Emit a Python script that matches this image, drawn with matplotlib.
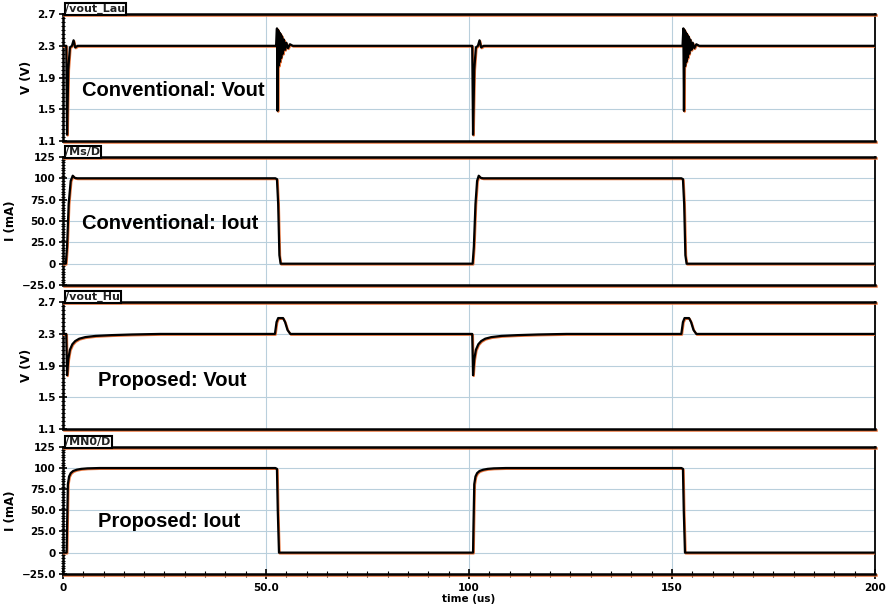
import matplotlib
matplotlib.use('Agg')
import matplotlib.pyplot as plt
import matplotlib.patheffects as pe
from matplotlib.ticker import FixedLocator, MultipleLocator, AutoMinorLocator

plt.rcParams['font.family'] = ['Liberation Sans', 'DejaVu Sans']

# ---- data (time in us) ----
conv_vout_t = [0, 0.8, 1.0, 1.3, 1.7, 2.2, 2.6, 3.0, 3.6,
               52.5, 52.7, 52.85, 53.0, 53.15, 53.3, 53.45, 53.6, 53.75, 53.95,
               54.15, 54.4, 54.7, 55.0, 55.4, 55.9, 56.6,
               100.6, 100.8, 101.0, 101.3, 101.7, 102.2, 102.6, 103.0, 103.6,
               152.6, 152.8, 152.95, 153.1, 153.25, 153.4, 153.55, 153.7, 153.85, 154.05,
               154.25, 154.5, 154.8, 155.1, 155.5, 156.0, 156.7,
               200]
conv_vout_v = [2.3, 2.3, 1.18, 2.0, 2.28, 2.3, 2.37, 2.28, 2.3,
               2.3, 2.52, 1.48, 2.5, 2.05, 2.47, 2.1, 2.45, 2.15, 2.42,
               2.2, 2.38, 2.25, 2.34, 2.27, 2.32, 2.3,
               2.3, 2.3, 1.18, 2.0, 2.28, 2.3, 2.37, 2.28, 2.3,
               2.3, 2.52, 1.48, 2.5, 2.05, 2.47, 2.1, 2.45, 2.15, 2.42,
               2.2, 2.38, 2.25, 2.34, 2.27, 2.32, 2.3,
               2.3]

conv_iout_t = [0, 0.7, 1.0, 1.4, 1.9, 2.4, 2.9, 3.5,
               52.3, 52.7, 53.0, 53.3, 53.6,
               100.9, 101.2, 101.6, 102.0, 102.4, 102.9, 103.5,
               152.3, 152.7, 153.0, 153.3, 153.6,
               200]
conv_iout_v = [0, 0, 20, 70, 97, 103, 100.5, 100,
               100, 99, 70, 10, 0,
               0, 20, 70, 97, 103, 100.5, 100,
               100, 99, 70, 10, 0,
               0]

prop_vout_t = [0, 0.8, 1.0, 1.3, 1.7, 2.3, 3.0, 4.0, 5.5, 8.0, 12.0, 17.0, 24.0,
               52.2, 52.6, 53.0, 54.2, 54.7, 55.3, 56.0,
               100.8, 101.0, 101.3, 101.7, 102.3, 103.0, 104.0, 105.5, 108.0, 112.0, 117.0, 124.0,
               152.3, 152.7, 153.1, 154.2, 154.7, 155.3, 156.0,
               200]
prop_vout_v = [2.3, 2.3, 1.78, 1.98, 2.1, 2.17, 2.21, 2.24, 2.26, 2.275, 2.285, 2.293, 2.3,
               2.3, 2.45, 2.5, 2.5, 2.45, 2.35, 2.3,
               2.3, 1.78, 1.98, 2.1, 2.17, 2.21, 2.24, 2.26, 2.275, 2.285, 2.293, 2.3,
               2.3, 2.45, 2.5, 2.5, 2.45, 2.35, 2.3,
               2.3]

prop_iout_t = [0, 0.9, 1.0, 1.2, 1.5, 1.9, 2.5, 3.4, 4.5, 6.0, 9.0,
               52.3, 52.7, 52.9, 53.2,
               101.0, 101.1, 101.3, 101.6, 102.0, 102.6, 103.5, 104.6, 106.1, 109.1,
               152.3, 152.7, 152.9, 153.2,
               200]
prop_iout_v = [0, 0, 30, 81, 90, 94, 96.5, 98, 99, 99.6, 100,
               100, 99, 50, 0,
               0, 30, 81, 90, 94, 96.5, 98, 99, 99.6, 100,
               100, 99, 50, 0,
               0]

v_ticks = [1.1, 1.5, 1.9, 2.3, 2.7]
v_labels = ['1.1', '1.5', '1.9', '2.3', '2.7']
i_ticks = [-25, 0, 25, 50, 75, 100, 125]
i_labels = ['\u221225.0', '0', '25.0', '50.0', '75.0', '100', '125']
x_ticks = [0, 50, 100, 150, 200]
x_labels = ['0', '50.0', '100', '150', '200']

panels = [
    ('/vout_Lau', conv_vout_t, conv_vout_v, 'V (V)', 'Conventional: Vout', 4.7, 0.40),
    ('/Ms/D', conv_iout_t, conv_iout_v, 'I (mA)', 'Conventional: Iout', 4.7, 0.48),
    ('/vout_Hu', prop_vout_t, prop_vout_v, 'V (V)', 'Proposed: Vout', 8.6, 0.38),
    ('/MN0/D', prop_iout_t, prop_iout_v, 'I (mA)', 'Proposed: Iout', 8.6, 0.41),
]
boxes = [(0.770, 0.977), (0.535, 0.744), (0.300, 0.507), (0.064, 0.271)]

shadow = [pe.SimpleLineShadow(offset=(0.5, -0.6), shadow_color='#e8733a', alpha=1.0), pe.Normal()]
grid_c = '#b9cfdc'
tick_font = dict(family='DejaVu Sans', weight='bold', size=7.5)

fig = plt.figure(figsize=(8.91, 6.13), dpi=100)

for k, (tag, t, v, ylab, note, nx, ny) in enumerate(panels):
    b, top = boxes[k]
    ax = fig.add_axes([0.0707, b, 0.9113, top - b])
    ax.plot(t, v, color='black', lw=1.6, path_effects=shadow, zorder=3)
    ax.set_xlim(0, 200)
    if ylab.startswith('V'):
        ax.set_ylim(1.1, 2.7)
        ax.yaxis.set_major_locator(FixedLocator(v_ticks))
        ax.set_yticklabels(v_labels, fontdict=tick_font)
    else:
        ax.set_ylim(-25, 125)
        ax.yaxis.set_major_locator(FixedLocator(i_ticks))
        ax.set_yticklabels(i_labels, fontdict=tick_font)
    ax.yaxis.set_minor_locator(AutoMinorLocator(8))
    ax.xaxis.set_major_locator(FixedLocator(x_ticks))
    ax.xaxis.set_minor_locator(MultipleLocator(5))
    ax.grid(True, which='major', color=grid_c, lw=0.8)
    ax.set_axisbelow(True)
    for s in ['left', 'bottom', 'top']:
        ax.spines[s].set_linewidth(1.8)
    ax.spines['right'].set_linewidth(1.3)
    ax.spines['top'].set_path_effects(shadow)
    ax.spines['bottom'].set_path_effects(shadow)
    ax.tick_params(axis='y', which='major', direction='inout', length=6, width=1.2, pad=2)
    ax.tick_params(axis='y', which='minor', direction='inout', length=3, width=0.8)
    ax.set_ylabel(ylab, fontsize=8.5, fontweight='bold', family='DejaVu Sans', labelpad=3)
    if k < 3:
        ax.tick_params(axis='x', which='both', bottom=False, labelbottom=False)
    else:
        ax.tick_params(axis='x', which='major', direction='inout', length=7, width=1.2, pad=3)
        ax.tick_params(axis='x', which='minor', direction='inout', length=4, width=0.8)
        ax.set_xticklabels(x_labels, fontdict=tick_font)
        ax.set_xlabel('time (us)', fontsize=7.5, fontweight='bold', family='DejaVu Sans',
                      labelpad=1)
    ax.text(0.003, 1.0, tag, transform=ax.transAxes, ha='left', va='bottom',
            fontsize=8, fontweight='bold', family='DejaVu Sans', color='#222222',
            bbox=dict(boxstyle='square,pad=0.08', fc='white', ec='black', lw=1.5))
    ax.text(nx, ny, note, transform=ax.get_xaxis_transform(), ha='left', va='center',
            fontsize=14.5, fontweight='bold', zorder=4)

fig.savefig('out.png', dpi=100)
